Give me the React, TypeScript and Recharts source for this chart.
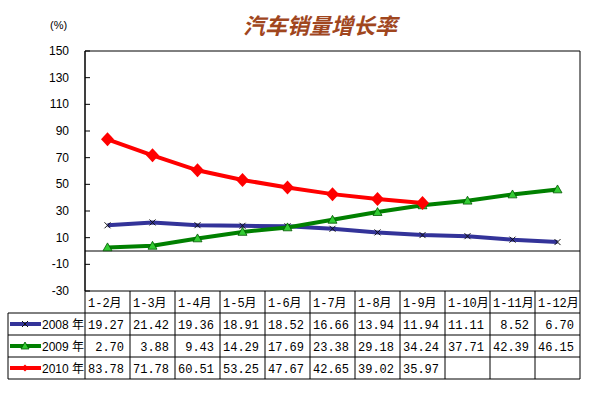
import { LineChart, Line, XAxis, YAxis, ReferenceLine, ReferenceArea } from 'recharts'

// 月份区间
const categories = ['1-2月', '1-3月', '1-4月', '1-5月', '1-6月', '1-7月', '1-8月', '1-9月', '1-10月', '1-11月', '1-12月']
// 各年累计销量增长率 (%)
const sales2008 = [19.27, 21.42, 19.36, 18.91, 18.52, 16.66, 13.94, 11.94, 11.11, 8.52, 6.7]
const sales2009 = [2.7, 3.88, 9.43, 14.29, 17.69, 23.38, 29.18, 34.24, 37.71, 42.39, 46.15]
const sales2010: (number | null)[] = [83.78, 71.78, 60.51, 53.25, 47.67, 42.65, 39.02, 35.97, null, null, null]
const yTicks = [-30, -10, 10, 30, 50, 70, 90, 110, 130, 150]

const series = [
  { key: 'y2008', name: '2008 年', color: '#333399', values: sales2008, marker: 'x' },
  { key: 'y2009', name: '2009 年', color: '#008000', values: sales2009, marker: 'tri' },
  { key: 'y2010', name: '2010 年', color: '#ff0000', values: sales2010, marker: 'dia' },
]

const data = categories.map((c, i) => ({
  label: c,
  y2008: sales2008[i],
  y2009: sales2009[i],
  y2010: sales2010[i],
}))

// 图表区域
const W = 594
const H = 399
const PLOT_L = 85
const PLOT_R = 580
const PLOT_T = 51
const PLOT_B = 291
const COL_W = (PLOT_R - PLOT_L) / categories.length
const ROW_H = 22
const TABLE_L = 8

const numFont = "'Liberation Mono', 'Noto Sans CJK SC', monospace"

function Marker({ type, cx, cy, small }: { type: string; cx: number; cy: number; small?: boolean }) {
  if (type === 'x') {
    const s = 3
    return (
      <path
        d={`M${cx - s},${cy - s}L${cx + s},${cy + s}M${cx + s},${cy - s}L${cx - s},${cy + s}`}
        stroke="#111"
        strokeWidth={1}
        fill="none"
      />
    )
  }
  if (type === 'tri') {
    const s = small ? 4 : 4.5
    return (
      <path
        d={`M${cx},${cy - s}L${cx + s},${cy + s * 0.75}L${cx - s},${cy + s * 0.75}Z`}
        fill="#33cc33"
        stroke="#005500"
        strokeWidth={0.8}
      />
    )
  }
  const w = small ? 3.5 : 6.5
  const h = small ? 3.5 : 7
  return <path d={`M${cx},${cy - h}L${cx + w},${cy}L${cx},${cy + h}L${cx - w},${cy}Z`} fill="#ff0000" />
}

const makeDot = (type: string) => (props: any) => {
  const { cx, cy, index, value } = props
  if (cy == null || value == null || Number.isNaN(cy)) return <g key={`d${index}`} />
  return (
    <g key={`d${index}`}>
      <Marker type={type} cx={cx} cy={cy} />
    </g>
  )
}

function YTick(props: any) {
  const { x, y, payload } = props
  return (
    <g>
      <text
        x={x}
        y={y + 4}
        textAnchor="end"
        fontSize={12}
        fontFamily="'Liberation Sans Narrow', 'Liberation Sans', sans-serif"
        fill="#000"
      >
        {payload.value}
      </text>
      <line x1={PLOT_L} x2={PLOT_L + 5} y1={y} y2={y} stroke="#000" />
    </g>
  )
}

function DataTable() {
  const rows = series.length
  const bottom = PLOT_B + ROW_H * (rows + 1)
  const fmt = (v: number | null) => (v == null ? '' : v.toFixed(2).padStart(5, ' '))
  return (
    <svg width={W} height={H} style={{ position: 'absolute', left: 0, top: 0, pointerEvents: 'none' }}>
      {/* 外框和网格线 */}
      <line x1={PLOT_L} x2={PLOT_L} y1={PLOT_B} y2={bottom} stroke="#000" />
      <line x1={PLOT_R} x2={PLOT_R} y1={PLOT_B} y2={bottom} stroke="#000" />
      <line x1={TABLE_L} x2={TABLE_L} y1={PLOT_B + ROW_H} y2={bottom} stroke="#000" />
      {categories.map((_, i) =>
        i === 0 ? null : (
          <line
            key={`v${i}`}
            x1={PLOT_L + i * COL_W}
            x2={PLOT_L + i * COL_W}
            y1={PLOT_B}
            y2={bottom}
            stroke="#000"
          />
        )
      )}
      {Array.from({ length: rows + 1 }).map((_, r) => (
        <line
          key={`h${r}`}
          x1={TABLE_L}
          x2={PLOT_R}
          y1={PLOT_B + ROW_H * (r + 1)}
          y2={PLOT_B + ROW_H * (r + 1)}
          stroke="#000"
        />
      ))}
      {categories.map((c, i) => (
        <text
          key={`c${i}`}
          x={PLOT_L + i * COL_W + 3}
          y={PLOT_B + 16}
          fontSize={12}
          fontFamily={numFont}
          fill="#000"
        >
          {c}
        </text>
      ))}
      {series.map((s, r) => {
        const cy = PLOT_B + ROW_H * (r + 1) + ROW_H / 2
        return (
          <g key={s.key}>
            <line x1={10} x2={41} y1={cy} y2={cy} stroke={s.color} strokeWidth={4} />
            <Marker type={s.marker} cx={25} cy={cy} small />
            <text
              x={42}
              y={cy + 5}
              fontSize={12}
              fontFamily="'Liberation Sans', 'Noto Sans CJK SC', sans-serif"
              fill="#000"
            >
              {s.name}
            </text>
            {s.values.map((v, i) => (
              <text
                key={i}
                x={PLOT_L + i * COL_W + 3}
                y={cy + 5}
                fontSize={12}
                fontFamily={numFont}
                fill="#000"
                style={{ whiteSpace: 'pre' }}
              >
                {fmt(v)}
              </text>
            ))}
          </g>
        )
      })}
    </svg>
  )
}

export default function App() {
  return (
    <div style={{ position: 'absolute', left: 0, top: 0, width: W, height: H, background: '#fff' }}>
      <LineChart
        width={W}
        height={H}
        data={data}
        margin={{ top: PLOT_T, right: W - PLOT_R, bottom: H - PLOT_B, left: PLOT_L - 50 }}
      >
        <XAxis dataKey="label" hide height={0} scale="band" />
        <YAxis
          width={50}
          domain={[-30, 150]}
          ticks={yTicks}
          interval={0}
          tickLine={false}
          tickSize={0}
          tickMargin={16}
          axisLine={{ stroke: '#000' }}
          tick={<YTick />}
        />
        <ReferenceArea y1={-30} y2={150} fill="none" stroke="#000" strokeWidth={1} ifOverflow="visible" />
        <ReferenceLine y={0} stroke="#000" strokeWidth={1} />
        {series.map((s) => (
          <Line
            key={s.key}
            dataKey={s.key}
            name={s.name}
            stroke={s.color}
            strokeWidth={4}
            type="linear"
            dot={makeDot(s.marker)}
            activeDot={false}
            isAnimationActive={false}
          />
        ))}
      </LineChart>
      <DataTable />
      <div
        style={{
          position: 'absolute',
          left: 0,
          width: 640,
          top: 10,
          textAlign: 'center',
          fontSize: 22,
          fontWeight: 'bold',
          fontStyle: 'italic',
          color: '#a0461e',
          fontFamily: "'Noto Sans CJK SC', sans-serif",
          lineHeight: '28px',
        }}
      >
        汽车销量增长率
      </div>
      <div
        style={{
          position: 'absolute',
          left: 50,
          top: 19,
          fontSize: 11,
          fontFamily: "'Liberation Sans', sans-serif",
          color: '#000',
        }}
      >
        (%)
      </div>
    </div>
  )
}
